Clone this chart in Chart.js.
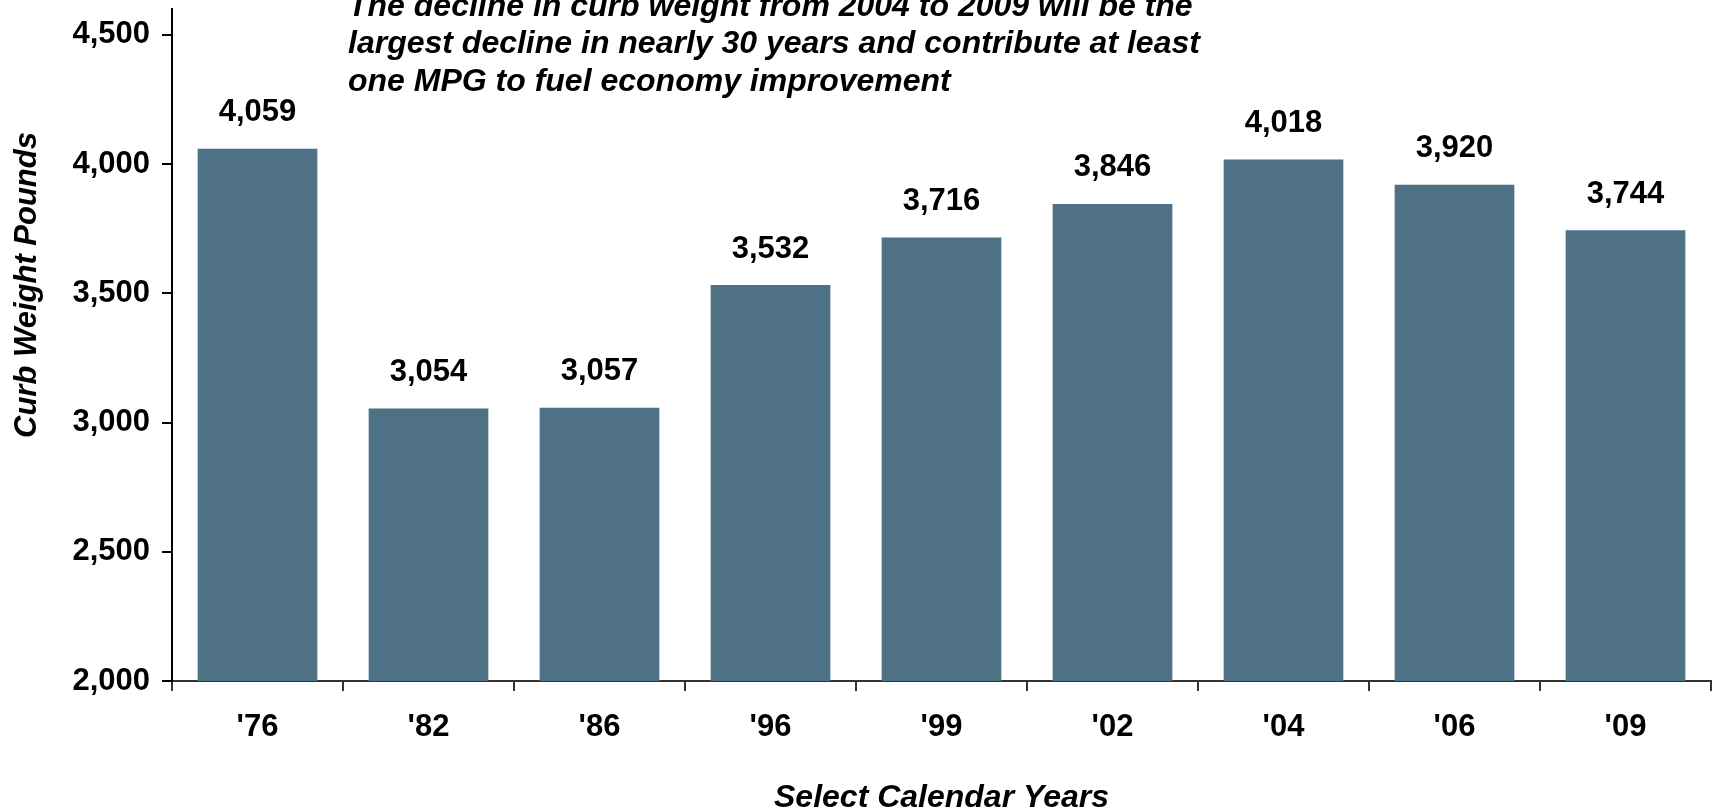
<!DOCTYPE html>
<html>
<head>
<meta charset="utf-8">
<script src="https://cdn.jsdelivr.net/npm/chart.js@4.4.1/dist/chart.umd.min.js"></script>
<style>
  html, body { margin: 0; padding: 0; background: #fff; }
  #wrap { position: relative; width: 1714px; height: 811px; }
</style>
</head>
<body>
<div id="wrap"><canvas id="weightChart"></canvas></div>
<script>
const years = ["'76", "'82", "'86", "'96", "'99", "'02", "'04", "'06", "'09"];
const curbWeight = [4059, 3054, 3057, 3532, 3716, 3846, 4018, 3920, 3744];
const yTicks = [2000, 2500, 3000, 3500, 4000, 4500];
const yTitle = 'Curb Weight Pounds';
const xTitle = 'Select Calendar Years';
const noteLines = [
  'The decline in curb weight from 2004 to 2009 will be the',
  'largest decline in nearly 30 years and contribute at least',
  'one MPG to fuel economy improvement'
];

const FONT = 'Liberation Sans, Arial, Helvetica, sans-serif';
const fmt = (v) => v.toLocaleString('en-US');

// value labels above each bar
const barLabels = {
  id: 'barLabels',
  afterDatasetsDraw(chart) {
    const { ctx } = chart;
    const meta = chart.getDatasetMeta(0);
    ctx.save();
    ctx.font = 'bold 31px ' + FONT;
    ctx.fillStyle = '#000';
    ctx.textAlign = 'center';
    ctx.textBaseline = 'middle';
    meta.data.forEach((bar, i) => {
      ctx.fillText(fmt(curbWeight[i]), bar.x, bar.y - 36);
    });
    ctx.restore();
  }
};

// rotated y title + note text in the top area
const extraText = {
  id: 'extraText',
  afterDraw(chart) {
    const { ctx } = chart;
    ctx.save();
    ctx.fillStyle = '#000';
    ctx.font = 'italic bold 31px ' + FONT;
    ctx.translate(27, 285);
    ctx.rotate(-Math.PI / 2);
    ctx.textAlign = 'center';
    ctx.textBaseline = 'middle';
    ctx.fillText(yTitle, 0, 0);
    ctx.restore();

    ctx.save();
    ctx.fillStyle = '#000';
    ctx.font = 'italic bold 32px ' + FONT;
    ctx.textAlign = 'left';
    ctx.textBaseline = 'alphabetic';
    noteLines.forEach((line, i) => {
      ctx.fillText(line, 348, 16 + i * 37.4);
    });
    ctx.restore();
  }
};

new Chart(document.getElementById('weightChart'), {
  type: 'bar',
  data: {
    labels: years,
    datasets: [{
      data: curbWeight,
      backgroundColor: '#4e7185',
      borderWidth: 0,
      barPercentage: 0.7,
      categoryPercentage: 1.0
    }]
  },
  options: {
    responsive: true,
    maintainAspectRatio: false,
    animation: false,
    devicePixelRatio: 1,
    layout: { padding: { top: 9, right: 3, left: 0, bottom: 0 } },
    plugins: { legend: { display: false }, tooltip: { enabled: false } },
    scales: {
      x: {
        grid: { display: true, drawOnChartArea: false, offset: true, tickLength: 10, color: '#333', lineWidth: 2 },
        border: { display: true, color: '#333', width: 2 },
        ticks: { color: '#000', font: { family: FONT, size: 31, weight: 'bold' }, padding: 18 },
        title: { display: true, text: xTitle, color: '#000', padding: { top: 0, bottom: -3 },
                 font: { family: FONT, size: 32, weight: 'bold', style: 'italic', lineHeight: 1 } },
        afterFit(s) { s.height = 130; s.paddingLeft = 0; s.paddingRight = 0; }
      },
      y: {
        min: 2000,
        max: 4600,
        afterBuildTicks(s) { s.ticks = yTicks.map(v => ({ value: v })); },
        grid: { display: true, drawOnChartArea: false, tickLength: 10, color: '#000', lineWidth: 2 },
        border: { display: true, color: '#000', width: 2 },
        ticks: { color: '#000', font: { family: FONT, size: 31, weight: 'bold' }, padding: 12, callback: v => fmt(v) },
        afterFit(s) { s.width = 172; s.paddingTop = 0; s.paddingBottom = 0; }
      }
    }
  },
  plugins: [barLabels, extraText]
});
</script>
</body>
</html>
